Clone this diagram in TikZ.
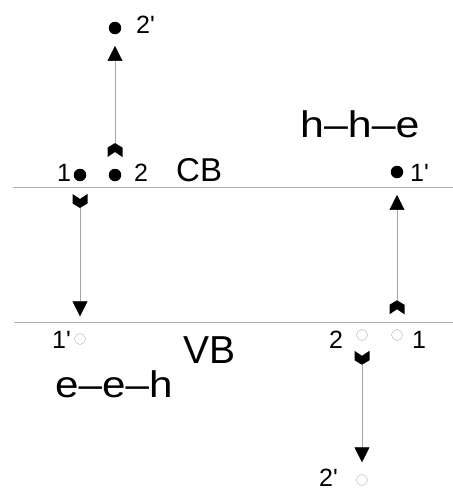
\documentclass[tikz,border=0pt]{standalone}
\usepackage{fontspec}
\usepackage{graphicx}
\setmainfont{Liberation Sans}
\usetikzlibrary{arrows.meta}

\newcommand{\pr}{\textquotesingle}

\tikzset{
  dot/.style={circle,fill=black,inner sep=0pt,minimum size=12.5pt},
  hole/.style={circle,draw=gray!55,line width=0.5pt,inner sep=0pt,minimum size=11pt},
  band/.style={draw=gray!60,line width=0.7pt},
  conn/.style={draw=gray!70,line width=0.5pt,-{Triangle[width=15pt,length=15pt,black]}},
  num/.style={font=\fontsize{25}{25}\selectfont,inner sep=0pt,anchor=base west},
  bandname/.style={inner sep=0pt,anchor=base west},
  chain/.style={font=\fontsize{37}{37}\selectfont,inner sep=0pt,anchor=base west},
  chevup/.pic={\fill[black] (0,0) -- (7.5,4.5) -- (7.5,14) -- (0,9) -- (-7.5,14) -- (-7.5,4.5) -- cycle;},
  chevdown/.pic={\fill[black] (0,0) -- (7.5,-4.5) -- (7.5,-14) -- (0,-9) -- (-7.5,-14) -- (-7.5,-4.5) -- cycle;},
}

\begin{document}
\begin{tikzpicture}[x=1pt,y=-1pt]
\useasboundingbox (0,0) rectangle (453,491);

% conduction and valence band edges
\coordinate (cbL) at (13,187);
\coordinate (cbR) at (453,187);
\coordinate (vbL) at (14,322);
\coordinate (vbR) at (453,322);
\draw[band] (cbL) -- (cbR);
\draw[band] (vbL) -- (vbR);

% carriers
\node[dot] (cbone) at (80,175) {};
\node[dot] (cbtwo) at (115,175) {};
\node[dot] (uptwo) at (115,28) {};
\node[dot] (cbonep) at (397,172) {};
\node[hole] (vbonep) at (80,339) {};
\node[hole] (vbone) at (397,335) {};
\node[hole] (vbtwo) at (362,335) {};
\node[hole] (vbtwop) at (362,480) {};

% transitions
\draw[conn,shorten <=25.5pt,shorten >=11.5pt] (cbtwo) -- (uptwo);
\path (cbtwo.north) ++(0,-25.5) pic {chevup};

\draw[conn,shorten <=26.5pt,shorten >=17pt] (cbone) -- (vbonep);
\path (cbone.south) ++(0,26.5) pic {chevdown};

\draw[conn,shorten <=29pt,shorten >=16.5pt] (vbone) -- (cbonep);
\path (vbone.north) ++(0,-29) pic {chevup};

\draw[conn,shorten <=24pt,shorten >=12pt] (vbtwo) -- (vbtwop);
\path (vbtwo.south) ++(0,24) pic {chevdown};

% labels
\node[num] (lone) at (57,181) {1};
\node[num] (ltwo) at (134,181) {2};
\node[num] (ltwop) at (136,33) {2\pr};
\node[num] (lonep) at (410,181) {1\pr};
\node[num] (lvbonep) at (52,348) {1\pr};
\node[num] (lvbtwo) at (329,348) {2};
\node[num] (lvbone) at (412,348) {1};
\node[num] (lvbtwop) at (319,486.5) {2\pr};

\node[bandname,font=\fontsize{33}{33}\selectfont] (cb) at (176,181) {CB};
\node[bandname,font=\fontsize{39}{39}\selectfont] (vb) at (183,363) {VB};

\node[chain] (hhe) at (300,137) {\scalebox{1.16}[1]{h–h–e}};
\node[chain] (eeh) at (55,397) {\scalebox{1.14}[1]{e–e–h}};
\end{tikzpicture}
\end{document}
